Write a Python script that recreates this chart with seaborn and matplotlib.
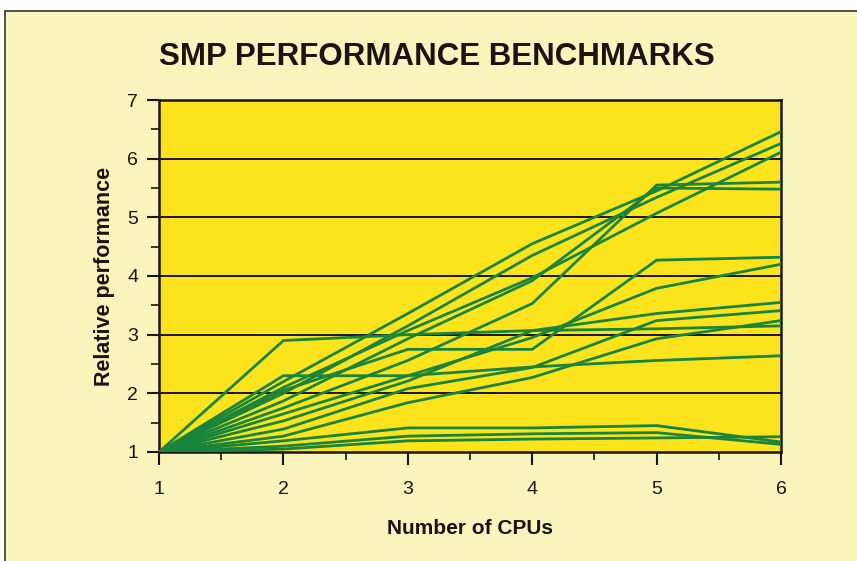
import numpy as np
import pandas as pd
import matplotlib
matplotlib.use("Agg")
import matplotlib.pyplot as plt
from matplotlib.patches import Rectangle
from matplotlib.ticker import MultipleLocator
import seaborn as sns

# Number of CPUs and relative performance of each benchmarked system
cpus = [1, 2, 3, 4, 5, 6]
sys_01 = [1.00, 2.90, 3.00, 3.07, 3.10, 3.15]
sys_02 = [1.00, 2.20, 3.36, 4.55, 5.45, 6.46]
sys_03 = [1.00, 2.00, 3.15, 4.35, 5.34, 6.26]
sys_04 = [1.00, 2.10, 3.07, 3.97, 5.07, 6.11]
sys_05 = [1.00, 1.87, 2.93, 3.92, 5.50, 5.48]
sys_06 = [1.00, 1.75, 2.56, 3.53, 5.55, 5.60]
sys_07 = [1.00, 2.05, 2.75, 2.75, 4.27, 4.32]
sys_08 = [1.00, 1.65, 2.30, 2.95, 3.79, 4.20]
sys_09 = [1.00, 1.53, 2.21, 3.07, 3.36, 3.55]
sys_10 = [1.00, 1.39, 2.08, 2.44, 3.24, 3.41]
sys_11 = [1.00, 1.27, 1.84, 2.27, 2.93, 3.24]
sys_12 = [1.00, 2.30, 2.30, 2.45, 2.56, 2.64]
sys_13 = [1.00, 1.19, 1.41, 1.41, 1.45, 1.17]
sys_14 = [1.00, 1.10, 1.27, 1.31, 1.33, 1.13]
sys_15 = [1.00, 1.05, 1.19, 1.22, 1.24, 1.26]

series = [sys_01, sys_02, sys_03, sys_04, sys_05, sys_06, sys_07, sys_08,
          sys_09, sys_10, sys_11, sys_12, sys_13, sys_14, sys_15]

y_ticks = [1, 2, 3, 4, 5, 6, 7]
x_ticks = [1, 2, 3, 4, 5, 6]

rows = []
for i, vals in enumerate(series):
    for c, v in zip(cpus, vals):
        rows.append({"system": f"S{i + 1}", "cpus": c, "perf": v})
df = pd.DataFrame(rows)

sns.set_style("ticks")
plt.rcParams["font.family"] = ["Liberation Sans", "DejaVu Sans"]

CREAM = "#f9f4bb"
YELLOW = "#fbe41c"
GREEN = "#18843c"
INK = "#1a1410"

fig = plt.figure(figsize=(8.57, 5.61), dpi=100)
fig.patch.set_facecolor("white")

# Cream panel behind the chart with a thin frame on the top and left
W, H = 857, 561
panel = Rectangle((5 / W, 0), 1 - 5 / W, (H - 11) / H, transform=fig.transFigure,
                  facecolor=CREAM, edgecolor="none", zorder=-10)
fig.add_artist(panel)
fig.add_artist(plt.Line2D([5 / W, 1], [(H - 11) / H] * 2, color="#333333", lw=1.2,
                          transform=fig.transFigure, zorder=-5))
fig.add_artist(plt.Line2D([5 / W] * 2, [0, (H - 11) / H], color="#333333", lw=1.2,
                          transform=fig.transFigure, zorder=-5))

ax = fig.add_axes([159 / W, (H - 452) / H, 622 / W, 352 / H])
ax.set_facecolor(YELLOW)

for y in y_ticks[1:-1]:
    ax.axhline(y, color=INK, lw=1.4, zorder=1)

palette = {s: GREEN for s in df["system"].unique()}
sns.lineplot(data=df, x="cpus", y="perf", hue="system", palette=palette,
             legend=False, lw=2.0, ax=ax, zorder=3, estimator=None)

ax.set_xlim(1, 6)
ax.set_ylim(1, 7)
ax.set_xticks(x_ticks)
ax.set_yticks(y_ticks)
ax.xaxis.set_minor_locator(MultipleLocator(0.5))
ax.yaxis.set_minor_locator(MultipleLocator(0.5))
ax.tick_params(axis="both", which="major", direction="out", length=9, width=1.5,
               color=INK, labelsize=14, labelcolor=INK)
ax.tick_params(axis="both", which="minor", direction="out", length=6, width=1.2,
               color=INK)
ax.tick_params(axis="x", which="major", pad=12)
ax.tick_params(axis="y", which="major", pad=6)

for sp in ax.spines.values():
    sp.set_visible(True)
    sp.set_color(INK)
    sp.set_linewidth(1.8)

ax.set_xlabel("Number of CPUs", fontsize=15, fontweight="bold", color=INK, labelpad=15)
ax.set_ylabel("Relative performance", fontsize=15.5, fontweight="bold", color=INK, labelpad=9)

fig.text(437 / W, 1 - 57 / H, "SMP PERFORMANCE BENCHMARKS", ha="center", va="center",
         fontsize=22.5, fontweight="bold", color=INK)

fig.savefig("out.png", dpi=100, facecolor=fig.get_facecolor())
